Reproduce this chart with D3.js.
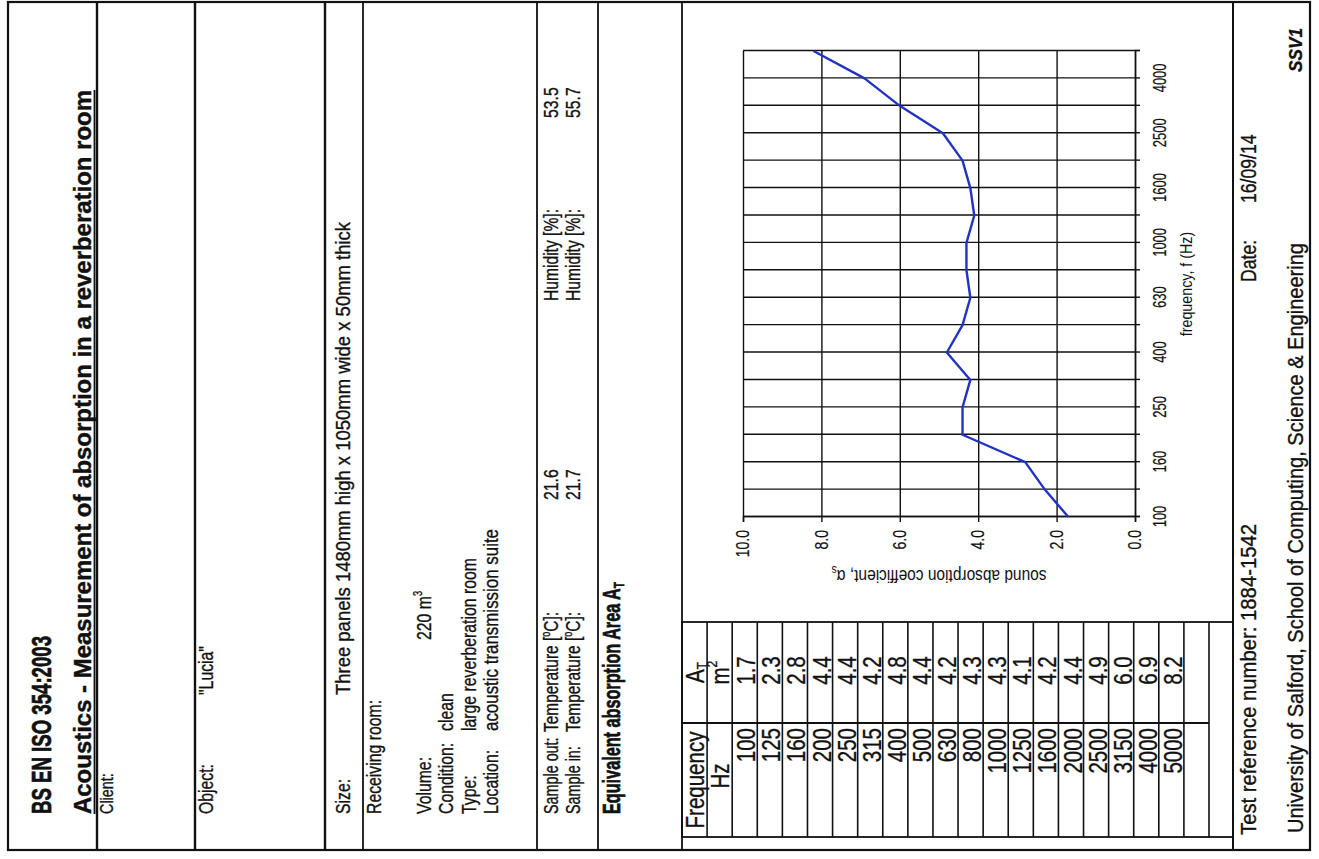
<!DOCTYPE html>
<html>
<head>
<meta charset="utf-8">
<script src="https://cdn.jsdelivr.net/npm/d3@7"></script>
<style>
  body { margin: 0; background: #fff; }
</style>
</head>
<body>
<svg width="1319" height="859"></svg>
<script>
// third-octave bands and measured equivalent absorption area A_T (m2)
const freqs = [100, 125, 160, 200, 250, 315, 400, 500, 630, 800, 1000, 1250, 1600, 2000, 2500, 3150, 4000, 5000];
const areaT = [1.7, 2.3, 2.8, 4.4, 4.4, 4.2, 4.8, 4.4, 4.2, 4.3, 4.3, 4.1, 4.2, 4.4, 4.9, 6.0, 6.9, 8.2];
const freqTickLabels = [100, 160, 250, 400, 630, 1000, 1600, 2500, 4000];
const valueTicks = [0, 2, 4, 6, 8, 10];

const FONT = "'Liberation Sans', Arial, Helvetica, sans-serif";
const INK = "#111";

var svg = d3.select("svg");
// the scanned sheet lies on its side: draw it upright, then turn it
var page = svg.append("g").attr("transform", "translate(0,859) rotate(-90)");

// narrow the glyphs like the condensed print of the scan
function squeeze(sel, sx, len) {
	sel.each(function() {
		var w = len || this.getComputedTextLength() * sx;
		d3.select(this).attr("textLength", w).attr("lengthAdjust", "spacingAndGlyphs");
	});
	return sel;
}

function txt(u, v, s, o) {
	o = o || {};
	var t = page.append("text")
		.attr("x", u).attr("y", v)
		.attr("font-family", FONT)
		.attr("font-size", o.fs || 20.5)
		.attr("font-weight", o.bold ? "bold" : "normal")
		.attr("font-style", o.italic ? "italic" : "normal")
		.attr("text-anchor", o.anchor || "start")
		.attr("fill", INK)
		.attr("stroke", INK).attr("stroke-width", o.sw || (o.bold ? 0.3 : 0.35))
		.text(s);
	if (o.sub) t.append("tspan").attr("font-size", o.sub[1]).attr("dy", o.sub[2]).text(o.sub[0]);
	squeeze(t, o.sx || 0.72, o.len);
	return t;
}

// frame and horizontal rules of the sheet
page.append("rect")
	.attr("x", 9).attr("y", 8).attr("width", 848).attr("height", 1302)
	.attr("fill", "none").attr("stroke", INK).attr("stroke-width", 2.2);
[[97, 2.4], [195, 2.4], [325, 2.4], [363, 1.8], [537, 1.8], [598, 1.8], [682, 1.8], [1233, 2]].forEach(function(r) {
	page.append("line")
		.attr("x1", 9).attr("x2", 857).attr("y1", r[0]).attr("y2", r[0])
		.attr("stroke", INK).attr("stroke-width", r[1]);
});

// header block
var L0 = 45;
txt(L0, 51, "BS EN ISO 354:2003", {fs: 27, bold: true, len: 178, sw: 0.7});
txt(L0, 91, "Acoustics - Measurement of absorption in a reverberation room", {fs: 24, bold: true, len: 724, sw: 0.4});
page.append("line").attr("x1", L0).attr("x2", L0 + 724).attr("y1", 94.5).attr("y2", 94.5)
	.attr("stroke", INK).attr("stroke-width", 1.8);
txt(L0, 113, "Client:", {fs: 18, sx: 0.8});
txt(L0, 213, "Object:", {sx: 0.77});
txt(164, 213, "\"Lucia\"", {sx: 0.77});
txt(L0, 350, "Size:", {sx: 0.77});
txt(164, 350, "Three panels 1480mm high x 1050mm wide x 50mm thick", {len: 473});
txt(L0, 381, "Receiving room:", {sx: 0.77});

txt(L0, 431, "Volume:", {sx: 0.77});
txt(219, 431, "220 m", {sx: 0.77, sub: ["3", 12, -9]});
txt(L0, 453, "Condition:", {sx: 0.77});
txt(128, 453, "clean", {sx: 0.77});
txt(L0, 476, "Type:", {sx: 0.77});
txt(128, 476, "large reverberation room", {sx: 0.77});
txt(L0, 498, "Location:", {sx: 0.77});
txt(128, 498, "acoustic transmission suite", {len: 202});

[["Sample out:", 558, "21.6", "53.5"], ["Sample in:", 580, "21.7", "55.7"]].forEach(function(r) {
	txt(L0, r[1], r[0], {sx: 0.7});
	var te = page.append("text")
		.attr("x", 127).attr("y", r[1])
		.attr("font-family", FONT).attr("font-size", 20.5).attr("fill", INK)
		.attr("stroke", INK).attr("stroke-width", 0.35)
		.text("Temperature [");
	te.append("tspan").attr("font-size", 12).attr("dy", -8).text("o");
	te.append("tspan").attr("dy", 8).text("C]:");
	squeeze(te, 0.77, 120);
	txt(359, r[1], r[2], {sx: 0.77});
	txt(558, r[1], "Humidity [%]:", {len: 92});
	txt(741, r[1], r[3], {sx: 0.77});
});
txt(L0, 620, "Equivalent absorption Area A", {fs: 24, bold: true, len: 232, sw: 0.7, sub: ["T", 15, 4]});

// table of A_T per band
var tableTop = 682, tableEnd = 1233, colL = 22, colM = 136, colR = 237;
var rowKeys = ["h1", "h2"].concat(freqs, ["blank"]);
var row = d3.scaleBand().domain(rowKeys).range([tableTop, 1209]);

page.append("rect")
	.attr("x", colL).attr("y", tableTop).attr("width", colR - colL).attr("height", tableEnd - tableTop)
	.attr("fill", "none").attr("stroke", INK).attr("stroke-width", 1.8);
page.append("line")
	.attr("x1", colM).attr("x2", colM).attr("y1", tableTop).attr("y2", row.range()[1])
	.attr("stroke", INK).attr("stroke-width", 1.8);
page.selectAll(".rowline")
	.data(rowKeys)
	.enter()
	.append("line")
		.attr("x1", colL).attr("x2", colR)
		.attr("y1", function(d) { return row(d) + row.bandwidth(); })
		.attr("y2", function(d) { return row(d) + row.bandwidth(); })
		.attr("stroke", INK).attr("stroke-width", 1.6);

txt((colL + colM) / 2, row("h1") + row.bandwidth() - 3, "Frequency", {fs: 25, sx: 0.82, anchor: "middle"});
txt((colL + colM) / 2 + 4, row("h2") + row.bandwidth() - 3, "Hz", {fs: 25, sx: 0.82, anchor: "middle"});
txt((colM + colR) / 2, row("h1") + row.bandwidth() - 3, "A", {fs: 25, sx: 0.82, anchor: "middle", sub: ["T", 15, 3]});
txt((colM + colR) / 2, row("h2") + row.bandwidth() - 3, "m", {fs: 25, sx: 0.82, anchor: "middle", sub: ["2", 15, -12]});

freqs.forEach(function(f, i) {
	var base = row(f) + row.bandwidth() - 2;
	txt(colM - 5, base, String(f), {fs: 25, sx: 0.82, anchor: "end"});
	txt((colM + colR) / 2 + 2, base, areaT[i].toFixed(1), {fs: 25, sx: 0.82, anchor: "middle"});
});

// chart
var plotL = 342, plotR = 808, plotT = 743, plotB = 1135;
var x = d3.scalePoint().domain(freqs).range([plotL, plotR]);
var y = d3.scaleLinear().domain([0, 10]).range([plotB, plotT]);

var chart = page.append("g");
chart.append("g")
	.attr("transform", "translate(0," + plotB + ")")
	.call(d3.axisBottom(x).tickSize(-(plotB - plotT)).tickFormat(""))
	.call(function(g) { g.select(".domain").remove(); });
chart.append("g")
	.attr("transform", "translate(" + plotL + ",0)")
	.call(d3.axisLeft(y).tickValues(valueTicks).tickSize(-(plotR - plotL)).tickFormat(""))
	.call(function(g) { g.select(".domain").remove(); });

var xAxis = chart.append("g")
	.attr("transform", "translate(0," + plotB + ")")
	.call(d3.axisBottom(x).tickSize(5).tickPadding(13)
		.tickFormat(function(d) { return freqTickLabels.indexOf(d) >= 0 ? d : ""; }));
var yAxis = chart.append("g")
	.attr("transform", "translate(" + plotL + ",0)")
	.call(d3.axisLeft(y).tickValues(valueTicks).tickSize(5).tickPadding(8)
		.tickFormat(d3.format(".1f")));
chart.selectAll(".tick line").attr("stroke", INK).attr("stroke-width", 1.4);
chart.selectAll(".domain").attr("stroke", INK).attr("stroke-width", 1.5);
xAxis.selectAll("text").attr("font-family", FONT).attr("font-size", 18).attr("fill", INK)
	.attr("stroke", INK).attr("stroke-width", 0.2)
	.call(squeeze, 0.72);
yAxis.selectAll("text").attr("font-family", FONT).attr("font-size", 17.5).attr("fill", INK)
	.attr("stroke", INK).attr("stroke-width", 0.2)
	.call(squeeze, 0.8);

var yl = chart.append("text")
	.attr("transform", "translate(289," + ((plotT + plotB) / 2) + ") rotate(-90)")
	.attr("text-anchor", "middle")
	.attr("font-family", FONT).attr("font-size", 18).attr("fill", INK)
	.text("sound absorption coefficient, \u03b1");
yl.append("tspan").attr("font-size", 12).attr("dy", 4).text("s");
squeeze(yl, 0.9, 215);
chart.append("text")
	.attr("x", (plotL + plotR) / 2).attr("y", 1192)
	.attr("text-anchor", "middle")
	.attr("font-family", FONT).attr("font-size", 17).attr("fill", INK)
	.text("frequency, f (Hz)")
	.call(squeeze, 0.84);

chart.append("path")
	.datum(areaT)
	.attr("fill", "none")
	.attr("stroke", "#2233c4")
	.attr("stroke-width", 2.4)
	.attr("stroke-linejoin", "round")
	.attr("d", d3.line()
		.x(function(d, i) { return x(freqs[i]); })
		.y(function(d) { return y(d); }));

// footer
txt(24, 1256, "Test reference number: 1884-1542", {fs: 22, len: 311});
txt(577, 1256, "Date:", {fs: 22, sx: 0.8});
txt(656, 1256, "16/09/14", {fs: 22, sx: 0.8});
txt(26, 1303, "University of Salford, School of Computing, Science & Engineering", {fs: 22, len: 590});
txt(831, 1302, "SSV1", {fs: 18, bold: true, italic: true, anchor: "end", len: 44});
</script>
</body>
</html>
